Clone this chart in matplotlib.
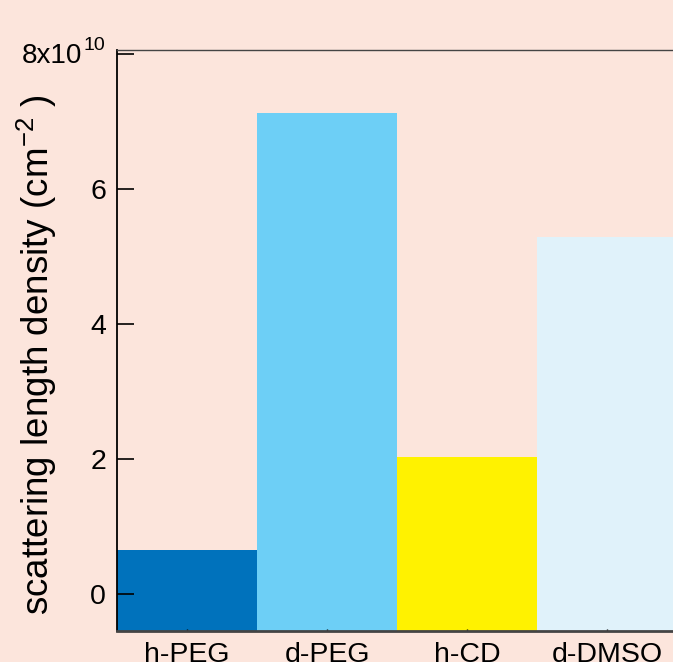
import numpy as np
import matplotlib.pyplot as plt

# scattering length densities, units of 1e10 cm^-2
labels = ["h-PEG", "d-PEG", "h-CD", "d-DMSO"]
sld = [0.65, 7.13, 2.03, 5.29]
colors = ["#0072BC", "#6DCFF6", "#FFF200", "#E0F2FA"]
yticks = [0, 2, 4, 6, 8]
yticklabels = ["0", "2", "4", "6", ""]

bg = "#FCE5DC"
plt.rcParams['font.family'] = ['Liberation Sans', 'DejaVu Sans']
plt.rcParams['mathtext.fontset'] = 'custom'
plt.rcParams['mathtext.rm'] = 'Liberation Sans'

fig = plt.figure(figsize=(6.73, 6.62), dpi=100, facecolor=bg)
ax = fig.add_axes([117/673, 1 - 631/662, 560/673, 581/662])
ax.set_facecolor(bg)

ymin, ymax = -0.55, 8.06
x = np.arange(len(labels))
ax.bar(x, np.array(sld) - ymin, bottom=ymin, width=1.0, color=colors, linewidth=0)

ax.set_xlim(-0.5, 3.5)
ax.set_ylim(ymin, ymax)
ax.set_xticks(x)
ax.set_xticklabels(labels, fontsize=20.5)
ax.set_yticks(yticks)
ax.set_yticklabels(yticklabels, fontsize=20.5)
ax.tick_params(axis='y', direction='in', length=12, width=1.2, pad=8, color='black')
ax.tick_params(axis='x', direction='in', length=1.5, width=1, pad=8, color='black')

# top tick label with its exponent
ax.annotate("8x10", xy=(0, yticks[-1]), xycoords=('axes fraction', 'data'),
            xytext=(-25, -6.5), textcoords='offset points', fontsize=20,
            ha='right', va='baseline')
ax.annotate("10", xy=(0, yticks[-1]), xycoords=('axes fraction', 'data'),
            xytext=(-24, 3), textcoords='offset points', fontsize=14,
            ha='left', va='baseline')

fig.text(37/673, 1 - 355/662, "scattering length density (cm$^{-2}$ )",
         rotation=90, fontsize=26.5, ha='center', va='center')

ax.spines['left'].set_linewidth(1.3)
ax.spines['left'].set_color('black')
ax.spines['bottom'].set_linewidth(2)
ax.spines['bottom'].set_color('#444444')
ax.spines['top'].set_linewidth(1)
ax.spines['top'].set_color('#444444')
ax.spines['right'].set_visible(False)

fig.savefig("out.png", dpi=100, facecolor=bg)
